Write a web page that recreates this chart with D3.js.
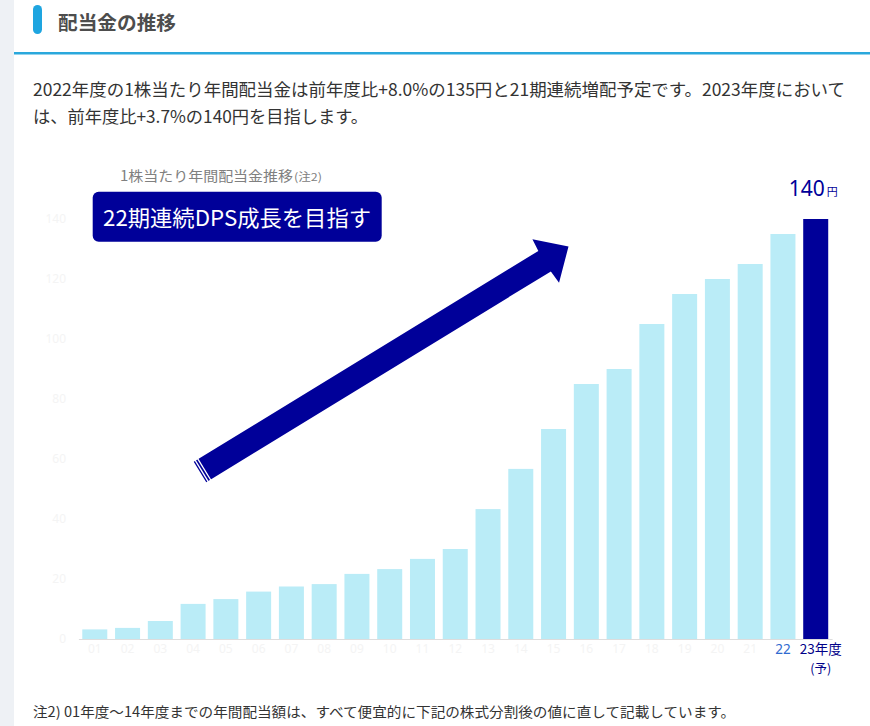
<!DOCTYPE html>
<html>
<head>
<meta charset="utf-8">
<script src="https://cdn.jsdelivr.net/npm/d3@7"></script>
<style>
  body { margin: 0; background: #fff; }
  svg text { font-family: "Noto Sans CJK JP", "Noto Sans", sans-serif; }
</style>
</head>
<body>
<div id="chart"></div>
<script>
// Data: annual dividend per share (yen), FY01 - FY23 (forecast)
var years = ["01", "02", "03", "04", "05", "06", "07", "08", "09", "10", "11", "12",
             "13", "14", "15", "16", "17", "18", "19", "20", "21", "22", "23年度"];
var dps = [3.2, 3.7, 6.0, 11.7, 13.3, 15.8, 17.5, 18.3, 21.7, 23.3, 26.7, 30.0,
           43.3, 56.7, 70, 85, 90, 105, 115, 120, 125, 135, 140];
var yTicks = [0, 20, 40, 60, 80, 100, 120, 140];

var svgWidth = 870;
var svgHeight = 726;

var svg = d3.select("#chart")
    .append("svg")
    .attr("width", svgWidth)
    .attr("height", svgHeight);

// page frame: left grey strip, heading, rule
svg.append("rect").attr("x", 0).attr("y", 0).attr("width", 14).attr("height", svgHeight).attr("fill", "#eef1f5");
svg.append("rect").attr("x", 33).attr("y", 5).attr("width", 9).attr("height", 29).attr("rx", 4.5).attr("fill", "#1ea5e0");
svg.append("text")
    .attr("x", 58).attr("y", 30)
    .attr("font-size", 19).attr("font-weight", "bold").attr("fill", "#4d4d4d")
    .attr("textLength", 118).attr("lengthAdjust", "spacingAndGlyphs")
    .text("配当金の推移");
svg.append("rect").attr("x", 14).attr("y", 52).attr("width", svgWidth - 14).attr("height", 2.5).attr("fill", "#2aa8dc");

// intro paragraph
svg.append("text")
    .attr("x", 33).attr("y", 96)
    .attr("font-size", 17).attr("fill", "#333")
    .attr("textLength", 812).attr("lengthAdjust", "spacingAndGlyphs")
    .text("2022年度の1株当たり年間配当金は前年度比+8.0%の135円と21期連続増配予定です。2023年度において");
svg.append("text")
    .attr("x", 33).attr("y", 123)
    .attr("font-size", 17).attr("fill", "#333")
    .attr("textLength", 335).attr("lengthAdjust", "spacingAndGlyphs")
    .text("は、前年度比+3.7%の140円を目指します。");

// scales
var xBandScale = d3.scaleBand()
    .domain(years)
    .range([78.4, 832.1])
    .paddingInner(0.237)
    .paddingOuter(0.1185);

var yLinearScale = d3.scaleLinear()
    .domain([0, 140])
    .range([639, 219]);

// y axis (very faint labels)
var yAxis = svg.append("g")
    .attr("transform", "translate(70, 0)")
    .call(d3.axisLeft(yLinearScale).tickValues(yTicks).tickSize(0).tickPadding(4));
yAxis.select(".domain").remove();
yAxis.selectAll("text")
    .attr("fill", "#f4f4f4")
    .attr("font-size", 12)
    .style("font-family", "'Noto Sans', sans-serif");

// bars
svg.append("g")
    .selectAll("rect")
    .data(dps)
    .enter()
    .append("rect")
    .attr("x", (d, i) => xBandScale(years[i]))
    .attr("y", d => yLinearScale(d))
    .attr("width", xBandScale.bandwidth())
    .attr("height", d => yLinearScale(0) - yLinearScale(d))
    .attr("fill", (d, i) => i === dps.length - 1 ? "#000099" : "#baecf7");

// x axis
var lastYear = years[years.length - 1];
var xAxis = svg.append("g")
    .attr("transform", "translate(0, 639)")
    .call(d3.axisBottom(xBandScale).tickSize(0).tickSizeOuter(0).tickPadding(5));
xAxis.select(".domain").attr("stroke", "#dddddd");
xAxis.selectAll("text")
    .attr("font-size", 12)
    .attr("fill", "#f4f4f4")
    .style("font-family", "'Noto Sans', sans-serif");

var xTicks = xAxis.selectAll(".tick");
xTicks.filter(d => d === "22").select("text")
    .attr("font-size", 13.5)
    .attr("fill", "#2f6ad0");
xTicks.filter(d => d === lastYear).select("text")
    .attr("font-size", 13.5)
    .attr("fill", "#000088")
    .attr("x", 5)
    .style("font-family", null);
// second line of the last label
xTicks.filter(d => d === lastYear).append("text")
    .attr("x", 5)
    .attr("y", 34)
    .attr("text-anchor", "middle")
    .attr("font-size", 12.5)
    .attr("fill", "#000088")
    .text("(予)");

// value label on the last bar
var lastVal = dps[dps.length - 1];
var lastX = xBandScale(lastYear) + xBandScale.bandwidth() / 2;
svg.append("text")
    .attr("x", lastX - 27)
    .attr("y", yLinearScale(lastVal) - 23)
    .attr("font-size", 21)
    .attr("fill", "#000099")
    .style("font-family", "'Noto Sans', sans-serif")
    .text(lastVal);
svg.append("text")
    .attr("x", lastX + 11)
    .attr("y", yLinearScale(lastVal) - 23)
    .attr("font-size", 11)
    .attr("fill", "#000099")
    .text("円");

// chart subtitle
svg.append("text")
    .attr("x", 120).attr("y", 181)
    .attr("font-size", 14)
    .attr("fill", "#808080")
    .attr("textLength", 173).attr("lengthAdjust", "spacingAndGlyphs")
    .text("1株当たり年間配当金推移");
svg.append("text")
    .attr("x", 294).attr("y", 181)
    .attr("font-size", 11)
    .attr("fill", "#808080")
    .attr("textLength", 28).attr("lengthAdjust", "spacingAndGlyphs")
    .text("(注2)");

// callout box
svg.append("rect")
    .attr("x", 92.7).attr("y", 191.7)
    .attr("width", 289).attr("height", 50)
    .attr("rx", 6)
    .attr("fill", "#000099");
svg.append("text")
    .attr("x", 237).attr("y", 226)
    .attr("text-anchor", "middle")
    .attr("font-size", 22)
    .attr("fill", "#ffffff")
    .attr("textLength", 268).attr("lengthAdjust", "spacingAndGlyphs")
    .text("22期連続DPS成長を目指す");

// growth arrow (tail at lower left, pointing up right)
var arrow = svg.append("g")
    .attr("transform", "translate(200, 472) rotate(-31.46)");
arrow.append("path")
    .attr("d", "M0,-12 L404,-12 L405,-25 L432,0 L405,26 L404,12 L0,12 Z")
    .attr("fill", "#000099");
[2, 5].forEach(function(u) {
    arrow.append("line")
        .attr("x1", u).attr("x2", u)
        .attr("y1", -13).attr("y2", 13)
        .attr("stroke", "#ffffff")
        .attr("stroke-width", 1.3);
});

// footnote
svg.append("text")
    .attr("x", 33).attr("y", 717)
    .attr("font-size", 14)
    .attr("fill", "#333")
    .attr("textLength", 702).attr("lengthAdjust", "spacingAndGlyphs")
    .text("注2) 01年度〜14年度までの年間配当額は、すべて便宜的に下記の株式分割後の値に直して記載しています。");
</script>
</body>
</html>
